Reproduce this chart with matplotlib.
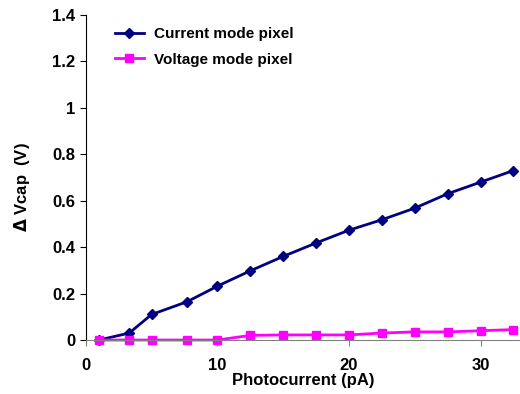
import matplotlib.pyplot as plt

photocurrent = [1, 3.3, 5, 7.7, 10, 12.5, 15, 17.5, 20, 22.5, 25, 27.5, 30, 32.5]
current_mode = [0, 0.03, 0.11, 0.165, 0.232, 0.298, 0.36, 0.418, 0.473, 0.518, 0.568, 0.63, 0.68, 0.73]
voltage_mode = [0, 0, 0, 0, 0, 0.02, 0.022, 0.022, 0.022, 0.03, 0.035, 0.035, 0.04, 0.045]

plt.rcParams["font.family"] = ["Liberation Sans", "DejaVu Sans"]
plt.rcParams["font.weight"] = "bold"

fig = plt.figure(figsize=(5.2, 3.94), dpi=100)
ax = fig.add_axes([0.165, 0.137, 0.835, 0.825])

ax.plot(photocurrent, current_mode, color="#000080", marker="D", markersize=5,
        linewidth=2, label="Current mode pixel", clip_on=False)
ax.plot(photocurrent, voltage_mode, color="#ff00ff", marker="s", markersize=6,
        linewidth=2, label="Voltage mode pixel", clip_on=False)

ax.set_xlim(0, 33)
ax.set_ylim(0, 1.4)
ax.set_xticks([0, 10, 20, 30])
ax.set_yticks([0, 0.2, 0.4, 0.6, 0.8, 1, 1.2, 1.4])
ax.set_yticklabels(["0", "0.2", "0.4", "0.6", "0.8", "1", "1.2", "1.4"])

for side in ["top", "right"]:
    ax.spines[side].set_visible(False)
ax.spines["bottom"].set_color("gray")
ax.spines["left"].set_color("black")
ax.spines["left"].set_linewidth(0.8)
ax.tick_params(axis="both", direction="out", labelsize=12, length=4)
ax.tick_params(axis="x", colors="gray", labelcolor="black", pad=9)

ax.set_xlabel("Photocurrent (pA)", fontsize=12, fontweight="bold")
ax.xaxis.set_label_coords(0.5, -0.1)
ax.xaxis.label.set_va("top")
ax.set_ylabel("$\\Delta$ Vcap  (V)", fontsize=12, fontweight="bold")
ax.yaxis.set_label_coords(-0.125, 0.47)

ax.legend(loc="upper left", bbox_to_anchor=(0.035, 1.005), frameon=False,
          fontsize=11, handlelength=1.9, handletextpad=0.7, labelspacing=0.75)

fig.savefig("out.png", dpi=100)
